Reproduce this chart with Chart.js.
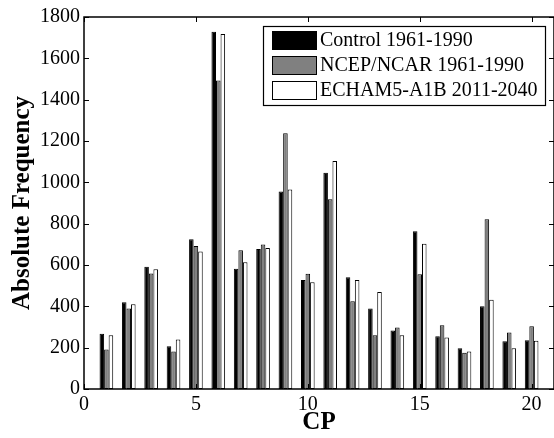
<!DOCTYPE html>
<html>
<head>
<meta charset="utf-8">
<script src="https://cdn.jsdelivr.net/npm/chart.js@4.4.0/dist/chart.umd.min.js"></script>
<style>
  html, body { margin: 0; padding: 0; background: #fff; }
  #wrap { width: 554px; height: 438px; }
</style>
</head>
<body>
<div id="wrap"><canvas id="c" width="554" height="438"></canvas></div>
<script>
// Circulation patterns (CP) and their absolute frequencies
const cps = [1, 2, 3, 4, 5, 6, 7, 8, 9, 10, 11, 12, 13, 14, 15, 16, 17, 18, 19, 20];
const control = [267, 420, 592, 207, 724, 1729, 582, 677, 956, 527, 1046, 541, 390, 283, 763, 255, 197, 401, 231, 236];
const ncep = [191, 390, 559, 181, 692, 1493, 671, 699, 1237, 558, 918, 425, 260, 297, 555, 309, 176, 821, 273, 304];
const echam = [260, 410, 580, 239, 665, 1718, 613, 682, 965, 516, 1103, 527, 469, 260, 703, 249, 181, 432, 197, 234];
const seriesNames = ['Control 1961-1990', 'NCEP/NCAR 1961-1990', 'ECHAM5-A1B 2011-2040'];
const seriesColors = ['#000000', '#808080', '#ffffff'];
const xTicks = [0, 5, 10, 15, 20];
const yTicks = [0, 200, 400, 600, 800, 1000, 1200, 1400, 1600, 1800];

const serif = "'Liberation Serif', 'Times New Roman', serif";

function points(vals) {
  return cps.map((c, i) => ({ x: c, y: vals[i] }));
}

// Box around the axes, inward ticks and the legend box
const framePlugin = {
  id: 'frame',
  afterDraw(chart) {
    const { ctx, chartArea: a, scales } = chart;
    const xs = scales.x, ys = scales.y;
    const tl = 5;
    ctx.save();
    ctx.strokeStyle = '#000';
    ctx.lineWidth = 1.5;
    ctx.beginPath();
    ctx.rect(a.left, a.top, a.right - a.left, a.bottom - a.top);
    ctx.stroke();
    ctx.lineWidth = 1;
    ctx.beginPath();
    xTicks.forEach(v => {
      const px = Math.round(xs.getPixelForValue(v)) + 0.5;
      ctx.moveTo(px, a.bottom); ctx.lineTo(px, a.bottom - tl);
      ctx.moveTo(px, a.top); ctx.lineTo(px, a.top + tl);
    });
    yTicks.forEach(v => {
      const py = Math.round(ys.getPixelForValue(v)) + 0.5;
      ctx.moveTo(a.left, py); ctx.lineTo(a.left + tl, py);
      ctx.moveTo(a.right, py); ctx.lineTo(a.right - tl, py);
    });
    ctx.stroke();

    // legend
    const lx = 263.5, ly = 26.5, lw = 282, lh = 79;
    ctx.fillStyle = '#fff';
    ctx.fillRect(lx, ly, lw, lh);
    ctx.lineWidth = 1.2;
    ctx.strokeRect(lx, ly, lw, lh);
    ctx.font = '20px ' + serif;
    ctx.textBaseline = 'middle';
    ctx.textAlign = 'left';
    chart.data.datasets.forEach((ds, i) => {
      const ry = 31.5 + i * 25;
      ctx.fillStyle = ds.backgroundColor;
      ctx.fillRect(272.5, ry, 44, 18);
      ctx.lineWidth = 1;
      ctx.strokeStyle = '#000';
      ctx.strokeRect(272.5, ry, 44, 18);
      ctx.fillStyle = '#000';
      ctx.fillText(ds.label, 320, ry + 9.5);
    });
    ctx.restore();
  }
};

new Chart(document.getElementById('c'), {
  type: 'bar',
  data: {
    datasets: [control, ncep, echam].map((vals, i) => ({
      label: seriesNames[i],
      data: points(vals),
      backgroundColor: seriesColors[i],
      borderColor: '#000',
      borderWidth: 1,
      borderSkipped: false,
      categoryPercentage: 0.61,
      barPercentage: 1.0
    }))
  },
  options: {
    responsive: false,
    animation: false,
    devicePixelRatio: 1,
    layout: { padding: { top: 17, right: 0, left: 0, bottom: 0 } },
    plugins: { legend: { display: false }, tooltip: { enabled: false } },
    scales: {
      x: {
        type: 'linear',
        offset: false,
        min: 0,
        max: 21,
        afterFit(s) { s.height = 49; },
        grid: { display: false, drawTicks: false },
        border: { display: false },
        ticks: {
          stepSize: 5,
          includeBounds: false,
          padding: 4,
          color: '#000',
          maxRotation: 0,
          font: { family: serif, size: 20 },
          callback: v => String(v)
        },
        title: {
          display: true,
          text: 'CP',
          color: '#000',
          padding: { top: 0, bottom: 0 },
          font: { family: serif, size: 25, weight: 'bold' }
        }
      },
      y: {
        min: 0,
        max: 1800,
        afterFit(s) { s.width = 84; },
        grid: { display: false, drawTicks: false },
        border: { display: false },
        ticks: {
          stepSize: 200,
          padding: 4,
          color: '#000',
          font: { family: serif, size: 20 },
          callback: v => String(v)
        },
        title: {
          display: true,
          text: 'Absolute Frequency',
          color: '#000',
          padding: { top: 8, bottom: 0 },
          font: { family: serif, size: 25, weight: 'bold' }
        }
      }
    }
  },
  plugins: [framePlugin]
});
</script>
</body>
</html>
